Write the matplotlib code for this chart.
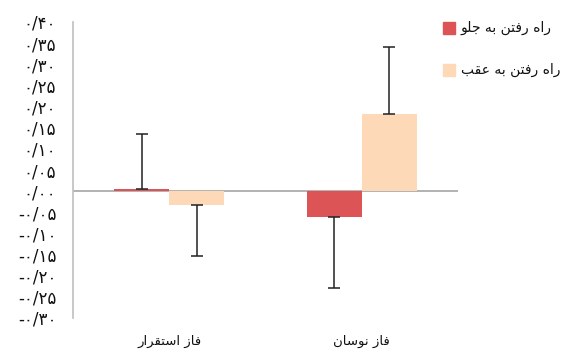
import numpy as np
import matplotlib
matplotlib.use("Agg")
import matplotlib.pyplot as plt
from matplotlib.patches import Rectangle

# ---- data -------------------------------------------------------------
categories = ["فاز استقرار", "فاز نوسان"]
series_names = ["راه رفتن به جلو", "راه رفتن به عقب"]
forward_vals = [0.004, -0.060]
backward_vals = [-0.033, 0.182]
forward_err = [0.130, 0.170]
backward_err = [0.120, 0.159]
yticks = [round(v, 2) for v in np.arange(-0.30, 0.401, 0.05)]

RED = "#DC5456"
BEIGE = "#FDD9B7"

# ---- minimal Arabic-script shaping (presentation forms, visual order) --
# (isolated, final, initial, medial); right-joining letters have no initial/medial
FORMS = {
    "ا": ("\uFE8D", "\uFE8E", None, None),
    "ب": ("\uFE8F", "\uFE90", "\uFE91", "\uFE92"),
    "ت": ("\uFE95", "\uFE96", "\uFE97", "\uFE98"),
    "ج": ("\uFE9D", "\uFE9E", "\uFE9F", "\uFEA0"),
    "ر": ("\uFEAD", "\uFEAE", None, None),
    "ز": ("\uFEAF", "\uFEB0", None, None),
    "س": ("\uFEB1", "\uFEB2", "\uFEB3", "\uFEB4"),
    "ع": ("\uFEC9", "\uFECA", "\uFECB", "\uFECC"),
    "ف": ("\uFED1", "\uFED2", "\uFED3", "\uFED4"),
    "ق": ("\uFED5", "\uFED6", "\uFED7", "\uFED8"),
    "ل": ("\uFEDD", "\uFEDE", "\uFEDF", "\uFEE0"),
    "ن": ("\uFEE5", "\uFEE6", "\uFEE7", "\uFEE8"),
    "ه": ("\uFEE9", "\uFEEA", "\uFEEB", "\uFEEC"),
    "و": ("\uFEED", "\uFEEE", None, None),
}


def shape(text):
    out = []
    n = len(text)
    for i, c in enumerate(text):
        if c not in FORMS:
            out.append(c)
            continue
        prev = text[i - 1] if i > 0 else None
        nxt = text[i + 1] if i + 1 < n else None
        jp = prev in FORMS and FORMS[prev][2] is not None
        jn = nxt in FORMS and FORMS[c][2] is not None
        iso, fin, ini, med = FORMS[c]
        if jp and jn:
            out.append(med)
        elif jp:
            out.append(fin)
        elif jn:
            out.append(ini)
        else:
            out.append(iso)
    return "".join(reversed(out))


FA_DIGITS = str.maketrans("0123456789", "۰۱۲۳۴۵۶۷۸۹")


def fa_num(v):
    s = f"{abs(v):.2f}".replace(".", "/").translate(FA_DIGITS)
    return ("-" if v < -1e-9 else "") + s


# ---- figure -----------------------------------------------------------
W, H, DPI = 563, 353, 100
fig = plt.figure(figsize=(W / DPI, H / DPI), dpi=DPI)
plt.rcParams["font.family"] = ["DejaVu Sans"]

left, right, top, bottom = 73, 458, 22, 318
ax = fig.add_axes([left / W, 1 - bottom / H, (right - left) / W, (bottom - top) / H])

x = np.arange(len(categories))
bw = 0.286
ebkw = dict(fmt="none", ecolor="#222222", elinewidth=1.1, capsize=4.4, capthick=1.1)

ax.bar(x - bw / 2, forward_vals, bw, color=RED, zorder=2)
ax.bar(x + bw / 2, backward_vals, bw, color=BEIGE, zorder=2)

# one-sided error bars pointing away from zero
def one_sided(vals, errs):
    lo = [e if v < 0 else 0 for v, e in zip(vals, errs)]
    hi = [e if v >= 0 else 0 for v, e in zip(vals, errs)]
    return [lo, hi]

ax.errorbar(x - bw / 2, forward_vals, yerr=one_sided(forward_vals, forward_err), zorder=3, **ebkw)
ax.errorbar(x + bw / 2, backward_vals, yerr=one_sided(backward_vals, backward_err), zorder=3, **ebkw)

ax.axhline(0, color="#A6A6A6", lw=1.2, zorder=1)

ax.set_xlim(-0.5, 1.5)
ax.set_ylim(-0.30, 0.40)
ax.set_yticks(yticks)
ax.set_yticklabels([fa_num(v) for v in yticks], fontsize=12, color="#111111")
ax.tick_params(axis="y", length=0, pad=12)
ax.set_xticks(x)
ax.set_xticklabels([shape(c) for c in categories], fontsize=9.5, color="#111111")
ax.tick_params(axis="x", length=0, pad=12)

for s in ("top", "right", "bottom"):
    ax.spines[s].set_visible(False)
ax.spines["left"].set_color("#BFBFBF")
ax.spines["left"].set_linewidth(1.2)

# legend drawn on the figure
for i, (name, col) in enumerate(zip(series_names, [RED, BEIGE])):
    cy = 28 + i * 42
    fig.add_artist(Rectangle(((443) / W, 1 - (cy + 6) / H), 12 / W, 12 / H,
                             transform=fig.transFigure, color=col))
    fig.text(461 / W, 1 - cy / H, shape(name), fontsize=10, va="center", ha="left",
             color="#111111")

fig.savefig("out.png", dpi=DPI)
